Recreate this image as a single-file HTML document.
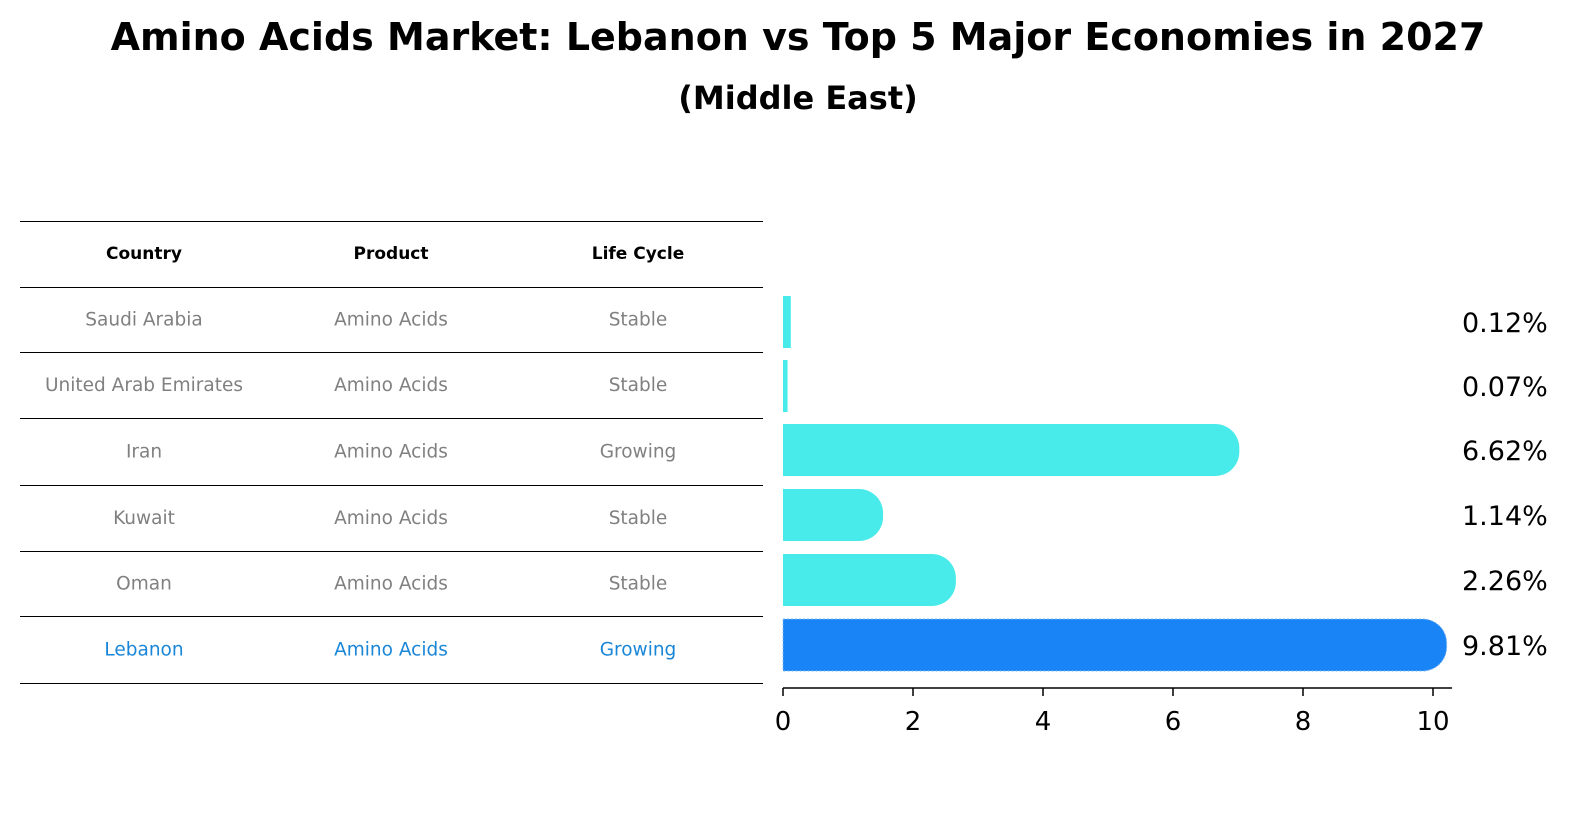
<!DOCTYPE html>
<html><head><meta charset="utf-8"><style>
body{margin:0;background:#fff;font-family:"Liberation Sans","DejaVu Sans",sans-serif;}
svg text{font-family:"DejaVu Sans","Liberation Sans",sans-serif;}
</style></head><body>
<svg id="c" width="1586" height="823">
<text x="798" y="50" text-anchor="middle" font-size="38" font-weight="bold">Amino Acids Market: Lebanon vs Top 5 Major Economies in 2027</text>
<text x="798" y="109" text-anchor="middle" font-size="32" font-weight="bold">(Middle East)</text>
<g id="tbl"></g>
<g id="bars"></g>
</svg>
<script>
const countries=["Saudi Arabia","United Arab Emirates","Iran","Kuwait","Oman","Lebanon"];
const products=["Amino Acids","Amino Acids","Amino Acids","Amino Acids","Amino Acids","Amino Acids"];
const lifeCycles=["Stable","Stable","Growing","Stable","Stable","Growing"];
const values=[0.12,0.07,6.62,1.14,2.26,9.81];
const valueLabels=["0.12%","0.07%","6.62%","1.14%","2.26%","9.81%"];
const ticks=[0,2,4,6,8,10];
const NS="http://www.w3.org/2000/svg";
function mk(t,a,p){const e=document.createElementNS(NS,t);for(const k in a)e.setAttribute(k,a[k]);p.appendChild(e);return e;}
const tbl=document.getElementById('tbl'), bars=document.getElementById('bars');
const lineY=[221,287,352,418,485,551,616,683];
lineY.forEach(y=>{const l=mk('line',{x1:20,x2:763,y1:y+0.5,y2:y+0.5,stroke:'#000','stroke-width':1,'shape-rendering':'crispEdges'},tbl);

});
const colX=[144,391,638];
["Country","Product","Life Cycle"].forEach((h,i)=>{const t=mk('text',{x:colX[i],y:259,'text-anchor':'middle','font-size':17,'font-weight':'bold'},tbl);t.textContent=h;

});
countries.forEach((c,r)=>{const y=(lineY[r+1]+lineY[r+2])/2+6;const col=r==5?'#1a86d8':'#808080';
[c,products[r],lifeCycles[r]].forEach((v,i)=>{const t=mk('text',{x:colX[i],y:y,'text-anchor':'middle','font-size':18.5,fill:col},tbl);t.textContent=v;

});});
const x0=783, sx=65; const X=v=>x0+v*sx;
const rowC=[322,386,450,515,580,645], bh=52;
values.forEach((v,i)=>{const y=rowC[i]-bh/2, xe=X(v);const col=i==5?'#1984f5':'#48ebea';let el;
if(v*sx>20){const end=xe+26,r=24;
el=mk('path',{d:`M${x0},${y} H${end-r} A${r},${r} 0 0 1 ${end},${y+r} V${y+bh-r} A${r},${r} 0 0 1 ${end-r},${y+bh} H${x0} Z`,fill:col},bars);
if(i==5){el.setAttribute('stroke','#7fb8f0');el.setAttribute('stroke-dasharray','2,2');}}
else el=mk('rect',{x:x0,y:y,width:Math.max(xe-x0,1),height:bh,fill:col},bars);


const t=mk('text',{x:1462,y:rowC[i]+10,'font-size':27},bars);t.textContent=valueLabels[i];

});
const ax=mk('line',{x1:x0,x2:1452,y1:688,y2:688,stroke:'#000','stroke-width':1.5},bars);


ticks.forEach(v=>{const l=mk('line',{x1:X(v),x2:X(v),y1:688,y2:696,stroke:'#000','stroke-width':1.5},bars);


const t=mk('text',{x:X(v),y:730,'text-anchor':'middle','font-size':26},bars);t.textContent=v;

});
</script>
</body></html>
